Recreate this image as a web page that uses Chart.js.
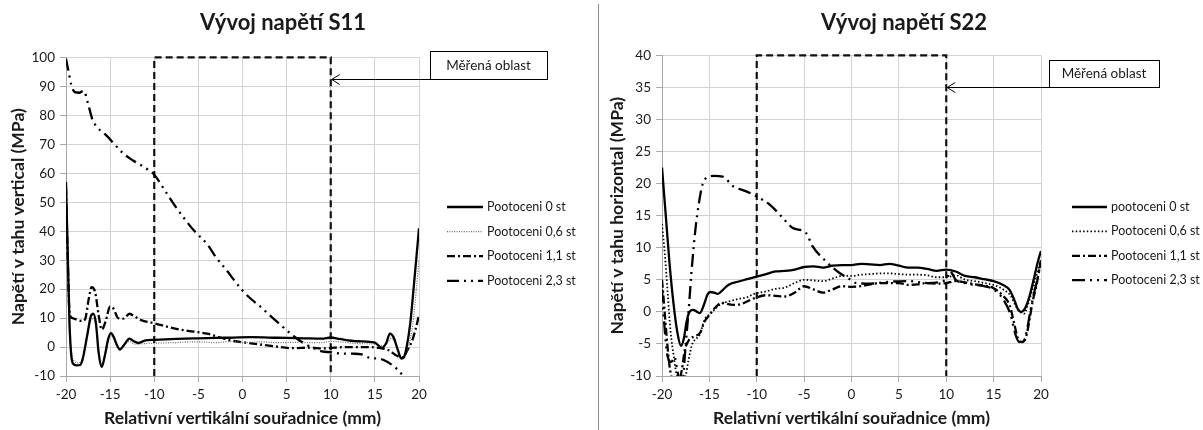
<!DOCTYPE html>
<html lang="cs">
<head>
<meta charset="utf-8">
<title>Vývoj napětí S11 / S22</title>
<script src="https://cdn.jsdelivr.net/npm/chart.js@4.4.1/dist/chart.umd.min.js"></script>
<style>
  html,body{margin:0;padding:0;background:#fff;}
  .sheet{display:flex;width:1203px;height:430px;}
  .sep{width:1px;background:#8c8c8c;margin-top:4px;}
  canvas{display:block;}
</style>
</head>
<body>
<div class="sheet">
  <canvas id="s11" width="598" height="430"></canvas>
  <div class="sep"></div>
  <canvas id="s22" width="604" height="430"></canvas>
</div>
<script>
'use strict';

const FONT='Lato, "Liberation Sans", sans-serif';
const INK='#1a1a1a';

// --- S11 (vertical stress) ---
const s11Labels=['Pootoceni 0 st','Pootoceni 0,6 st','Pootoceni 1,1 st','Pootoceni 2,3 st'];

const s11Rot0X=[-20,-19.8,-19.6,-19.4,-19.2,-18.8,-18.4,-18.1,-17.6,-17.2,-16.9,-16.6,-16.3,-15.95,-15.6,-15.2,-14.9,-14.6,-14.2,-13.9,-13.4,-12.8,-12.3,-11.8,-11,-10,-7.5,-5,-2,1,4,7,9,10,11,13,15,15.8,16.3,16.7,17.1,17.6,18,18.3,18.6,19,19.5,20];
const s11Rot0Y=[57,32,8,-3,-5.8,-6.3,-6.2,-4,4,10.5,11.5,8,-2,-6.9,-3,3,4.8,3.5,0.5,-0.9,0.8,2.9,2,1.4,2.3,2.5,2.8,3,3.2,3.4,3.2,3,2.9,3.3,2.8,2,1.5,-0.3,1.5,4.6,3.5,-1,-4,-3.5,0,8,24,41];

const s11Rot06X=[-20,-19.8,-19.6,-19.3,-19,-18.6,-18.2,-17.8,-17.3,-16.9,-16.5,-16.2,-15.9,-15.5,-15,-14.7,-14.2,-13.9,-13.3,-12.8,-12.2,-11,-10,-8,-5,-3,-1,0,2,4,6,8,9,10,11,13,15,15.8,16.3,16.9,17.4,18,18.4,18.8,19.3,19.7,20];
const s11Rot06Y=[60,25,5,-3,-5,-5.5,-4.5,0,8,10,5,-3,-6,-2,4,3.5,0,-0.5,1,2,1,1.2,1.3,1.5,1.8,1.5,2,1.5,1.8,1.5,1.6,1.5,1.5,2,1.8,1.2,1,0.5,1,3,1,-3.5,-3,0,8,20,30];

const s11Rot11X=[-20,-19.8,-19.6,-19.3,-18.8,-18.2,-17.85,-17.4,-17.1,-16.7,-16.3,-15.95,-15.5,-15,-14.6,-14.1,-13.5,-12.8,-12.2,-11.5,-10,-8,-6.6,-4,-1.4,1.2,3.5,5.6,7.7,9,10,12,14,15.5,16.5,17.5,18.2,18.7,19.2,19.6,20];
const s11Rot11Y=[55,30,12,10,9.5,9,9.5,17,20.7,19,11,6,9,14,13.2,10,9.8,11.5,10.5,9.3,8.2,6.6,5.8,4.6,2.3,1.2,0.3,-0.4,-0.2,-0.5,-0.3,0,0,-0.3,-1,-3,-3.5,-1,2,6,11];

const s11Rot23X=[-20,-19.7,-19.4,-19,-18.5,-18,-17.5,-17,-16.5,-16,-15.4,-14.5,-13.5,-12.4,-11,-10,-9,-7.8,-6.5,-5.5,-4,-3,-1.8,-0.8,0,1,2,3,4,5,6,7,8,9,10,11,12.5,13.5,14.5,15.5,16,17,18,18.5];
const s11Rot23Y=[99.5,95,90.5,88,87.8,88.5,84,78.5,76,74.5,73,70,66.8,64.4,61.8,59.5,55,49.4,44,40.2,35.5,31,26.5,22.5,19.5,16.5,14,11.2,8.5,5.8,3.3,1.2,-0.3,-1.5,-1.8,-2.2,-2.3,-2.5,-3.8,-4,-4.5,-6.3,-9.2,-11.5];

// --- S22 (horizontal stress) ---
const s22Labels=['pootoceni 0 st','Pootoceni 0,6 st','Pootoceni 1,1 st','Pootoceni 2,3 st'];

const s22Rot0X=[-20,-19.6,-19.2,-18.8,-18.4,-18,-17.7,-17.4,-17.1,-16.7,-16.3,-16,-15.6,-15.2,-14.9,-14.5,-14.1,-13.6,-13,-12,-11,-10,-9,-8,-7,-6,-5,-4,-3,-2,-1,0,1,2,3,4,5,6,7,8,9,10,11,12,13,14,15,16,16.7,17.2,17.6,17.9,18.3,18.8,19.3,19.7,20];
const s22Rot0Y=[22.5,15,7.5,1.5,-3,-5.3,-4.2,-1.5,0,0.3,0,-0.2,1,2.7,3.1,3,2.8,3.4,4.2,4.7,5.1,5.5,5.9,6.3,6.4,6.6,7,7.1,6.9,7.2,7.3,7.3,7.5,7.4,7.3,7.5,7.2,6.9,6.9,6.7,6.4,6.6,6.3,5.6,5.4,5.1,4.8,4.2,3.4,1.8,0.3,0,0.5,2.5,5.5,8,9.5];

const s22Rot06X=[-20,-19.7,-19.4,-19.1,-18.8,-18.5,-18.2,-17.8,-17.5,-17.2,-16.8,-16.4,-16,-15.5,-15,-14.5,-13.8,-13,-12,-11,-10.3,-9,-8,-7,-6,-5,-4,-3,-2,-1,0,1,2,3,4,5,6,7,8,9,10,11,12,13,14,15,16,16.8,17.3,17.8,18.2,18.6,19,19.5,20];
const s22Rot06Y=[13.7,9,3,-3,-6.5,-9.5,-11,-11.5,-10,-7.5,-5,-4.2,-3.5,-1.2,-0.4,0.3,1.2,1.6,2,2.3,2.8,3.2,3.6,3.8,4.5,5,4.9,4.8,5.2,5.6,5.6,5.8,5.9,6,6,5.9,5.8,5.8,5.7,5.4,5.4,5.7,5,4.8,4.5,4.2,3.5,2.5,1,0,-0.3,1,3,5.5,8];

const s22Rot11X=[-20,-19.8,-19.5,-19.2,-18.9,-18.3,-17.9,-17.6,-17.2,-16.6,-16,-15.5,-15,-14.3,-13.7,-12.5,-11.7,-10.3,-9,-8,-7,-6,-5,-4,-3,-2,-1,0,1,2,3,4,5,6,7,8,9,10,11,12,13,14,15,16,16.7,17.2,17.6,18,18.4,18.7,19.1,19.5,20];
const s22Rot11Y=[5,1.5,-4,-8.5,-10.5,-11,-9,-6,-4.5,-3.8,-3.3,-1.5,-0.5,0.8,1.4,1.1,1.2,2.1,2.6,2.5,2.4,3,4,3.5,3,3.5,4,3.9,4,4.3,4.5,4.5,4.5,4.2,4.3,4.5,4.4,4.5,4.8,4.6,4.3,4.1,3.7,2.5,1,-2,-4.3,-4.7,-4,-2,1.5,4,8];

const s22Rot23X=[-20,-19.7,-19.4,-19,-18.7,-18.4,-18.1,-17.8,-17.5,-17.2,-16.9,-16.5,-16.1,-15.7,-15.2,-14.5,-13.6,-12.5,-11.1,-10,-8.6,-7.4,-6.2,-4.8,-4.1,-2.7,-1.3,-0.3,0.5,2,4,6,8,10,10.4,11,12,13,14,15,16,16.8,17.3,17.7,18.1,18.5,18.8,19.2,19.6,20];
const s22Rot23Y=[3.5,-3,-7,-7.8,-7,-9,-11,-10.5,-5,0,6,12.5,17,20,21,21.2,21.1,19.6,18.8,18,16.7,14.9,13.1,12.3,10.2,7.9,6.1,5.2,4.5,4.4,4.7,4.8,4.5,5,6.3,5,4.5,4.2,4,3.5,2,-0.5,-3.5,-4.7,-4.7,-3,-0.5,2.5,5,8];

// measured zone, -10 mm .. 10 mm over the full value range
const zoneX=[-10,-10,10,10];
const s11ZoneY=[-10,100,100,-10];
const s22ZoneY=[-10,40,40,-10];

const pts=(xs,ys)=>xs.map((x,i)=>({x,y:ys[i]}));

function series(label,xs,ys,style){
  return Object.assign({label,data:pts(xs,ys),borderColor:'#000',borderWidth:2.3,
    pointRadius:0,cubicInterpolationMode:'monotone',fill:false},style);
}

// zone outline sits on the plot edges, so let it spill past the clip a little
function zone(ys){
  return {data:pts(zoneX,ys),borderColor:'#111',borderWidth:2.2,borderDash:[7,4],
    pointRadius:0,tension:0,fill:false,clip:3};
}

// legend drawn to the right of the plot, line samples use each dataset's dash
const sideLegend={
  id:'sideLegend',
  afterDraw(chart,args,o){
    const ctx=chart.ctx;
    ctx.save();
    ctx.font='12.5px '+FONT;
    ctx.textBaseline='middle';
    let y=o.y;
    chart.data.datasets.filter(d=>d.label).forEach(d=>{
      ctx.strokeStyle=d.borderColor;
      ctx.lineWidth=d.borderWidth;
      ctx.lineCap=d.borderCapStyle||'butt';
      ctx.setLineDash(d.borderDash||[]);
      ctx.beginPath();
      ctx.moveTo(o.x,y);ctx.lineTo(o.x+o.len,y);
      ctx.stroke();
      ctx.fillStyle=INK;
      ctx.fillText(d.label,o.x+o.len+4,y);
      y+=o.step;
    });
    ctx.restore();
  }
};

// "Měřená oblast" note with an arrow pointing at the edge of the zone
const zoneNote={
  id:'zoneNote',
  afterDraw(chart,args,o){
    const {ctx,scales:{x,y}}=chart;
    const tx=x.getPixelForValue(o.at[0]);
    const ty=Math.round(y.getPixelForValue(o.at[1]))+0.5;
    ctx.save();
    ctx.strokeStyle='#000';ctx.lineWidth=1;ctx.setLineDash([]);
    ctx.strokeRect(o.left+0.5,ty-o.h,o.w,o.h);
    ctx.font='13.5px '+FONT;ctx.fillStyle=INK;
    ctx.textAlign='center';ctx.textBaseline='middle';
    ctx.fillText('Měřená oblast',o.left+o.w/2,ty-o.h/2);
    ctx.beginPath();
    ctx.moveTo(o.left,ty);ctx.lineTo(tx+1,ty);
    ctx.moveTo(tx+9,ty-5);ctx.lineTo(tx+1,ty);ctx.lineTo(tx+9,ty+5);
    ctx.stroke();
    ctx.restore();
  }
};

function makeChart(id,cfg){
  return new Chart(document.getElementById(id),{
    type:'line',
    data:{datasets:cfg.datasets},
    plugins:[sideLegend,zoneNote],
    options:{
      responsive:false,animation:false,devicePixelRatio:1,
      layout:{padding:{left:cfg.padLeft,right:cfg.padRight,top:0,bottom:0}},
      plugins:{
        legend:{display:false},tooltip:{enabled:false},
        title:{display:true,text:cfg.title,color:INK,
          font:{family:FONT,size:22,weight:'bold'},padding:{top:10,bottom:cfg.titleGap}},
        sideLegend:cfg.legend,
        zoneNote:cfg.note
      },
      scales:{
        x:{type:'linear',min:-20,max:20,
          afterFit:s=>{s.height=54;},
          ticks:{stepSize:5,color:INK,padding:5,maxRotation:0,font:{family:FONT,size:13.5}},
          grid:{color:'#d3d3d3',tickLength:6,tickColor:'#a9a9a9'},
          border:{color:'#a9a9a9'},
          title:{display:true,text:'Relativní vertikální souřadnice (mm)',color:INK,
            font:{family:FONT,size:17.5,weight:'bold'},padding:{top:0,bottom:1}}},
        y:{min:cfg.yMin,max:cfg.yMax,
          afterFit:s=>{s.width=cfg.axisWidth;},
          ticks:{stepSize:cfg.yStep,color:INK,padding:5,font:{family:FONT,size:13.5}},
          grid:{color:'#d3d3d3',tickLength:6,tickColor:'#a9a9a9'},
          border:{color:'#a9a9a9'},
          title:{display:true,text:cfg.yTitle,color:INK,
            font:{family:FONT,size:17.5,weight:'bold'},padding:{top:cfg.yTitlePad,bottom:0}}},
        // empty right-hand band that holds the legend and the note
        side:{position:'right',min:0,max:1,
          afterFit:s=>{s.width=cfg.sideWidth;},
          ticks:{display:false},grid:{display:false},border:{display:false}}
      }
    }
  });
}

makeChart('s11',{
  title:'Vývoj napětí S11',titleGap:21,
  yTitle:'Napětí v tahu vertical (MPa)',yTitlePad:8,
  yMin:-10,yMax:100,yStep:10,axisWidth:66,padLeft:0,padRight:32,sideWidth:147,
  legend:{x:447,y:207,len:36,step:24.6},
  note:{at:[10,92.5],left:430,w:117,h:28},
  datasets:[
    series(s11Labels[0],s11Rot0X,s11Rot0Y,{}),
    series(s11Labels[1],s11Rot06X,s11Rot06Y,{borderColor:'#6a6a6a',borderWidth:1.2,borderDash:[1,1.4]}),
    series(s11Labels[2],s11Rot11X,s11Rot11Y,{borderDash:[8,3,2,3]}),
    series(s11Labels[3],s11Rot23X,s11Rot23Y,{borderDash:[12,5,2,5,2,5]}),
    zone(s11ZoneY)
  ]
});

makeChart('s22',{
  title:'Vývoj napětí S22',titleGap:19,
  yTitle:'Napětí v tahu horizontal (MPa)',yTitlePad:2,
  yMin:-10,yMax:40,yStep:5,axisWidth:57,padLeft:6,padRight:0,sideWidth:162,
  legend:{x:473,y:207,len:35,step:24.4},
  note:{at:[10,35],left:450,w:110,h:27},
  datasets:[
    series(s22Labels[0],s22Rot0X,s22Rot0Y,{}),
    series(s22Labels[1],s22Rot06X,s22Rot06Y,{borderWidth:1.8,borderDash:[1.5,2.2]}),
    series(s22Labels[2],s22Rot11X,s22Rot11Y,{borderDash:[8,3,2,3]}),
    series(s22Labels[3],s22Rot23X,s22Rot23Y,{borderDash:[13,5,2,5,2,5]}),
    zone(s22ZoneY)
  ]
});
</script>
</body>
</html>
